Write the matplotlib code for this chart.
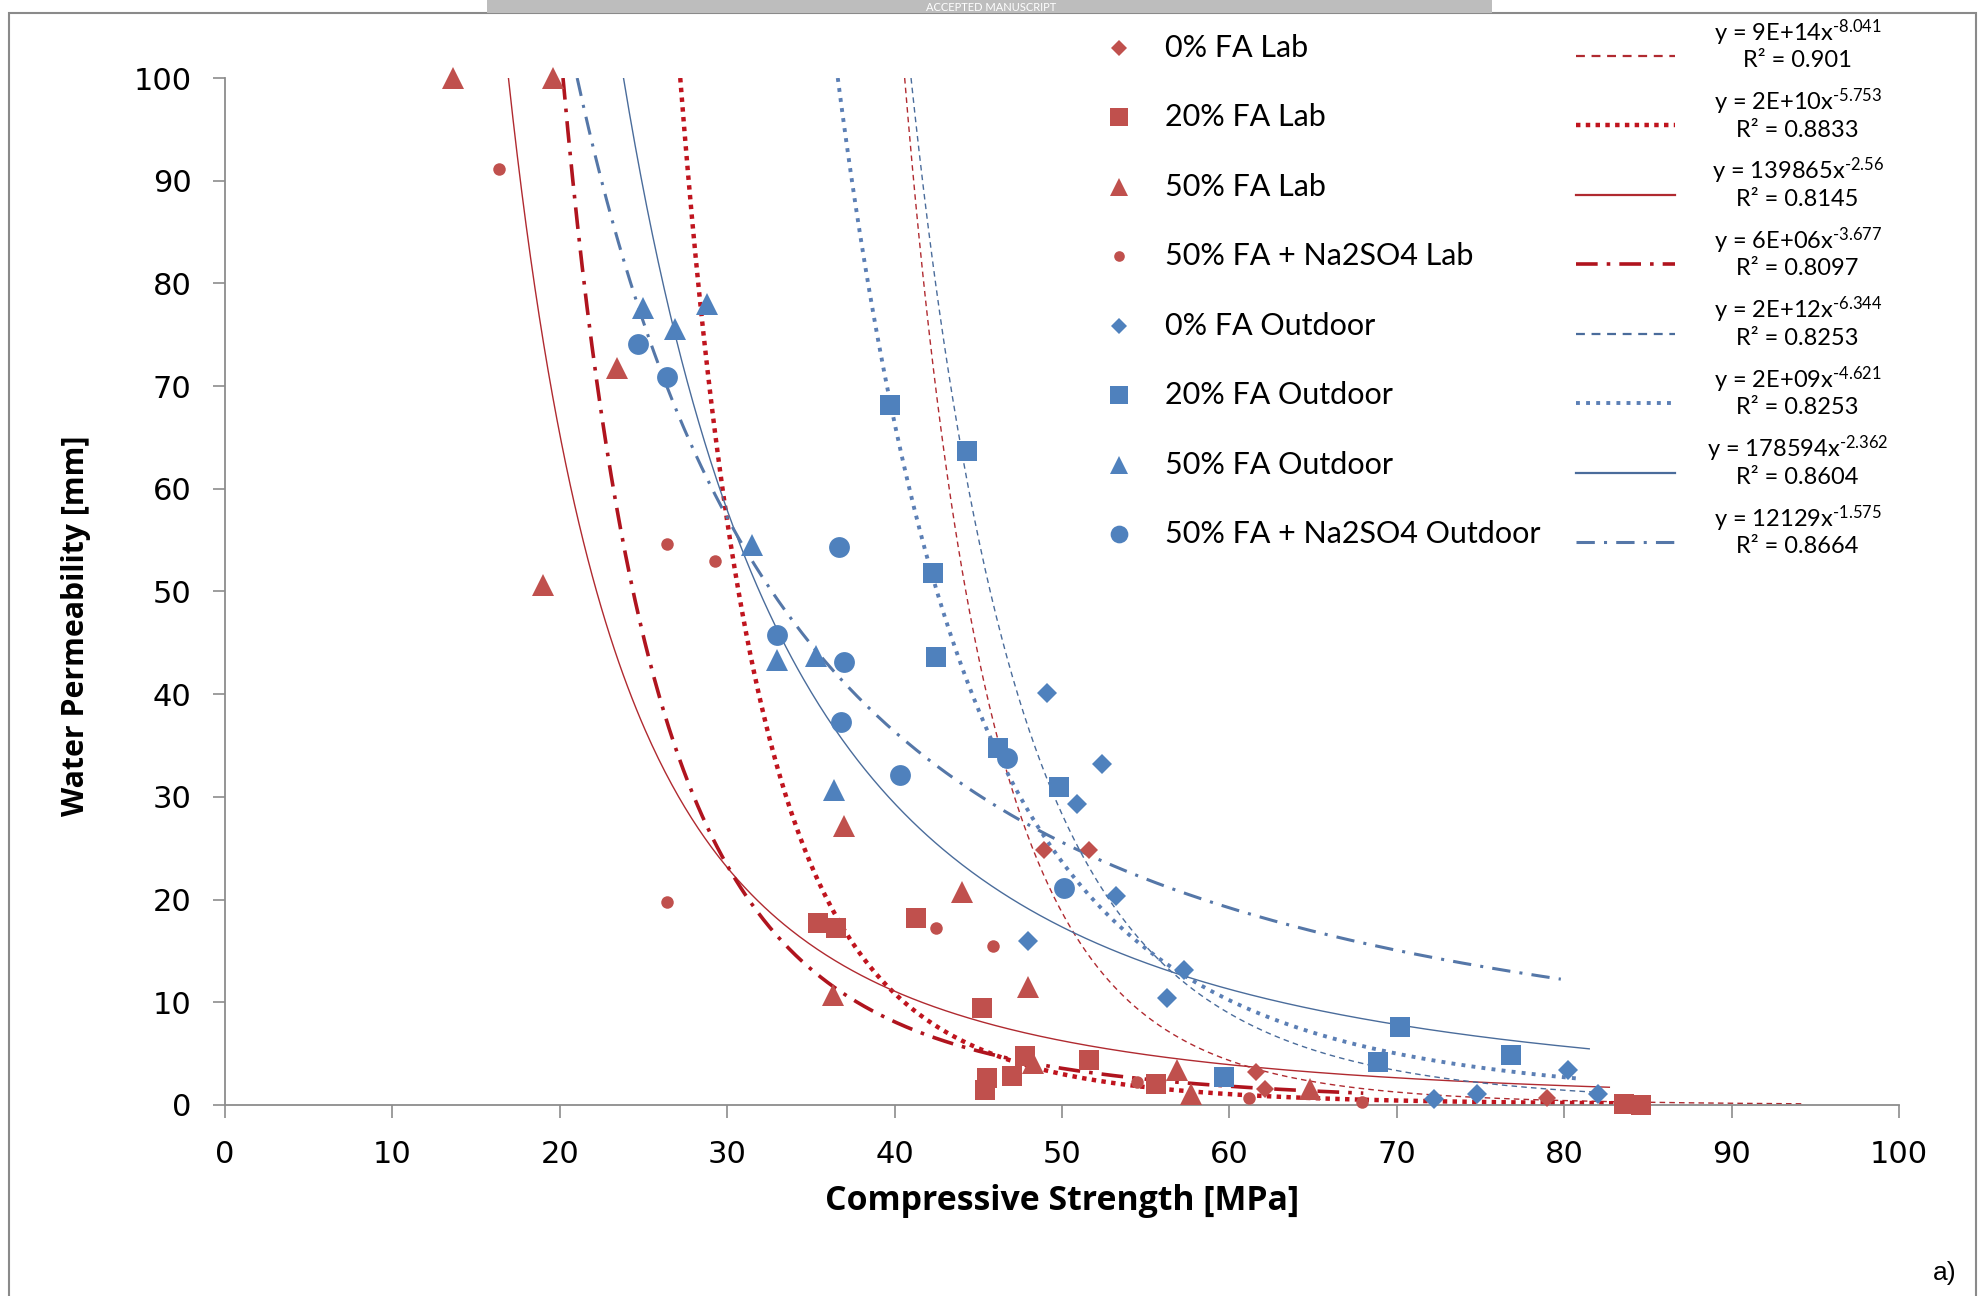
import matplotlib

matplotlib.use("Agg")
import matplotlib.pyplot as plt
import numpy as np
from matplotlib.lines import Line2D
from matplotlib.patches import Rectangle

plt.rcParams["font.family"] = ["Lato", "DejaVu Sans"]
plt.rcParams["mathtext.fontset"] = "custom"
plt.rcParams["mathtext.rm"] = "Lato"
plt.rcParams["mathtext.it"] = "Lato:italic"
plt.rcParams["mathtext.bf"] = "Lato:bold"

RED = "#C0504D"
BLUE = "#4F81BD"
RED_TREND = "#B02A30"
BLUE_TREND = "#4A6C9B"

series_labels = [
    "0% FA Lab",
    "20% FA Lab",
    "50% FA Lab",
    "50% FA + Na2SO4 Lab",
    "0% FA Outdoor",
    "20% FA Outdoor",
    "50% FA Outdoor",
    "50% FA + Na2SO4 Outdoor",
]

# measured points, compressive strength [MPa] vs water permeability [mm]
fa0_lab_x = [48.9, 51.6, 61.6, 62.1, 79.0]
fa0_lab_y = [24.8, 24.8, 3.2, 1.6, 0.7]

fa20_lab_x = [35.4, 36.5, 41.3, 45.2, 45.5, 45.4, 47.0, 47.8, 51.6, 55.6, 83.6, 84.6]
fa20_lab_y = [17.7, 17.2, 18.2, 9.4, 2.6, 1.5, 2.8, 4.8, 4.4, 2.0, 0.1, 0.0]

fa50_lab_x = [13.6, 19.6, 19.0, 23.4, 36.3, 37.0, 44.0, 48.0, 48.3, 56.9, 57.7, 64.8]
fa50_lab_y = [100.0, 100.0, 50.6, 71.8, 10.7, 27.2, 20.7, 11.5, 4.1, 3.4, 1.1, 1.6]

na_lab_x = [16.4, 26.4, 29.3, 26.4, 42.5, 45.9, 54.5, 61.2, 67.9]
na_lab_y = [91.1, 54.6, 53.0, 19.8, 17.2, 15.5, 2.2, 0.7, 0.3]

fa0_out_x = [49.1, 52.4, 50.9, 53.2, 48.0, 57.3, 56.3, 72.2, 74.8, 80.2, 82.0]
fa0_out_y = [40.1, 33.2, 29.3, 20.3, 16.0, 13.1, 10.4, 0.6, 1.1, 3.4, 1.1]

fa20_out_x = [39.7, 44.3, 42.3, 42.5, 46.2, 49.8, 59.7, 70.2, 68.9, 76.8]
fa20_out_y = [68.2, 63.7, 51.8, 43.6, 34.8, 31.0, 2.7, 7.6, 4.2, 4.9]

fa50_out_x = [25.0, 26.9, 28.8, 31.5, 33.0, 35.3, 36.4]
fa50_out_y = [77.6, 75.6, 78.0, 54.5, 43.3, 43.7, 30.7]

na_out_x = [24.7, 26.4, 36.7, 33.0, 37.0, 36.8, 40.3, 46.7, 50.1]
na_out_y = [74.1, 70.9, 54.3, 45.8, 43.1, 37.3, 32.1, 33.8, 21.1]

series_x = [fa0_lab_x, fa20_lab_x, fa50_lab_x, na_lab_x, fa0_out_x, fa20_out_x, fa50_out_x, na_out_x]
series_y = [fa0_lab_y, fa20_lab_y, fa50_lab_y, na_lab_y, fa0_out_y, fa20_out_y, fa50_out_y, na_out_y]

# power trendlines y = a * x^b (coefficients unrounded from the printed ones)
trend_a = [8.6e14, 1.79e10, 139865, 6.3e6, 1.70e12, 1.68e9, 178594, 12129]
trend_b = [-8.041, -5.753, -2.56, -3.677, -6.344, -4.621, -2.362, -1.575]
trend_end = [94.2, 85.0, 82.7, 68.0, 82.0, 81.0, 81.5, 79.8]
eq_text = [
    r"y = 9E+14x$^{\text{-8.041}}$",
    r"y = 2E+10x$^{\text{-5.753}}$",
    r"y = 139865x$^{\text{-2.56}}$",
    r"y = 6E+06x$^{\text{-3.677}}$",
    r"y = 2E+12x$^{\text{-6.344}}$",
    r"y = 2E+09x$^{\text{-4.621}}$",
    r"y = 178594x$^{\text{-2.362}}$",
    r"y = 12129x$^{\text{-1.575}}$",
]
r2_text = ["0.901", "0.8833", "0.8145", "0.8097", "0.8253", "0.8253", "0.8604", "0.8664"]

marker_style = [
    ("D", RED, 9),
    ("s", RED, 15),
    ("^", RED, 16),
    ("o", RED, 9),
    ("D", BLUE, 10),
    ("s", BLUE, 15),
    ("^", BLUE, 16),
    ("o", BLUE, 15),
]
trend_style = [
    (RED_TREND, (0, (4, 3)), 1.0),
    ("#C0141E", (0, (1, 1.2)), 3.2),
    (RED_TREND, "-", 1.0),
    ("#B0141E", (0, (6, 2.5, 1, 2.5)), 2.6),
    (BLUE_TREND, (0, (4, 3)), 1.0),
    ("#5B7FB5", (0, (1, 1.6)), 2.8),
    (BLUE_TREND, "-", 1.0),
    ("#5577A8", (0, (6, 3, 1, 3)), 2.2),
]

fig = plt.figure(figsize=(19.82, 12.96), dpi=100)
ax = fig.add_axes([0.1135, 0.1474, 0.8446, 0.7924])

for i in range(len(series_labels)):
    a, b = trend_a[i], trend_b[i]
    x_start = (a / 100.0) ** (1.0 / -b)
    xs = np.linspace(x_start, trend_end[i], 500)
    color, ls, lw = trend_style[i]
    ax.plot(xs, a * xs ** b, color=color, linestyle=ls, lw=lw, zorder=2)

for i in range(len(series_labels)):
    mk, color, ms = marker_style[i]
    ax.plot(series_x[i], series_y[i], linestyle="none", marker=mk, color=color,
            markersize=ms, markeredgewidth=0, clip_on=False, zorder=3)

ax.set_xlim(0, 100)
ax.set_ylim(0, 100)
ax.set_xticks(np.arange(0, 101, 10))
ax.set_yticks(np.arange(0, 101, 10))
for side in ("top", "right"):
    ax.spines[side].set_visible(False)
for side in ("left", "bottom"):
    ax.spines[side].set_color("#8C8C8C")
    ax.spines[side].set_linewidth(1.3)
ax.tick_params(axis="both", direction="out", length=9, width=1.2, color="#8C8C8C",
               labelsize=22, labelcolor="black")
ax.tick_params(axis="y", pad=15)
ax.tick_params(axis="x", pad=16)
for lbl in ax.get_xticklabels() + ax.get_yticklabels():
    lbl.set_family(["DejaVu Sans"])

ax.set_xlabel("Compressive Strength [MPa]", fontsize=24.4, fontweight="bold",
              family=["Open Sans", "DejaVu Sans"])
ax.set_ylabel("Water Permeability [mm]", fontsize=21.8, fontweight="bold",
              family=["Open Sans", "DejaVu Sans"])
ax.xaxis.set_label_coords(0.5, -0.0935)
ax.yaxis.set_label_coords(-0.089, 0.467)
ax.xaxis.label.set_va("center")
ax.yaxis.label.set_va("center")

# Excel-style legend: marker + name, trendline sample + equation
row_top = 0.963
row_step = 0.0536
for i, label in enumerate(series_labels):
    y = row_top - i * row_step
    mk, color, ms = marker_style[i]
    fig.add_artist(Line2D([0.5645], [y], transform=fig.transFigure, marker=mk,
                          color=color, markersize=ms * 0.85, markeredgewidth=0))
    fig.text(0.588, y, label, fontsize=22, va="center", ha="left")
    tcolor, ls, lw = trend_style[i]
    fig.add_artist(Line2D([0.795, 0.845], [y - 0.006, y - 0.006], transform=fig.transFigure,
                          color=tcolor, linestyle=ls, lw=max(lw, 1.6)))
    fig.text(0.907, y + 0.003, eq_text[i] + "\n" + "R² = " + r2_text[i],
             fontsize=17, va="center", ha="center", multialignment="center",
             linespacing=1.15)

# frame of the original chart area and the manuscript banner
fig.add_artist(Rectangle((0.0045, -0.05), 0.9925, 1.04, transform=fig.transFigure,
                         fill=False, edgecolor="#8A8A8A", lw=1.5))
fig.add_artist(Rectangle((0.2457, 0.99), 0.507, 0.02, transform=fig.transFigure,
                         facecolor="#BDBDBD", edgecolor="none"))
fig.text(0.5, 0.9945, "ACCEPTED MANUSCRIPT", color="white", fontsize=8,
         ha="center", va="center")
fig.text(0.981, 0.018, "a)", fontsize=19, ha="center", va="center",
         family=["Liberation Sans", "DejaVu Sans"])

fig.savefig("out.png", dpi=100)
